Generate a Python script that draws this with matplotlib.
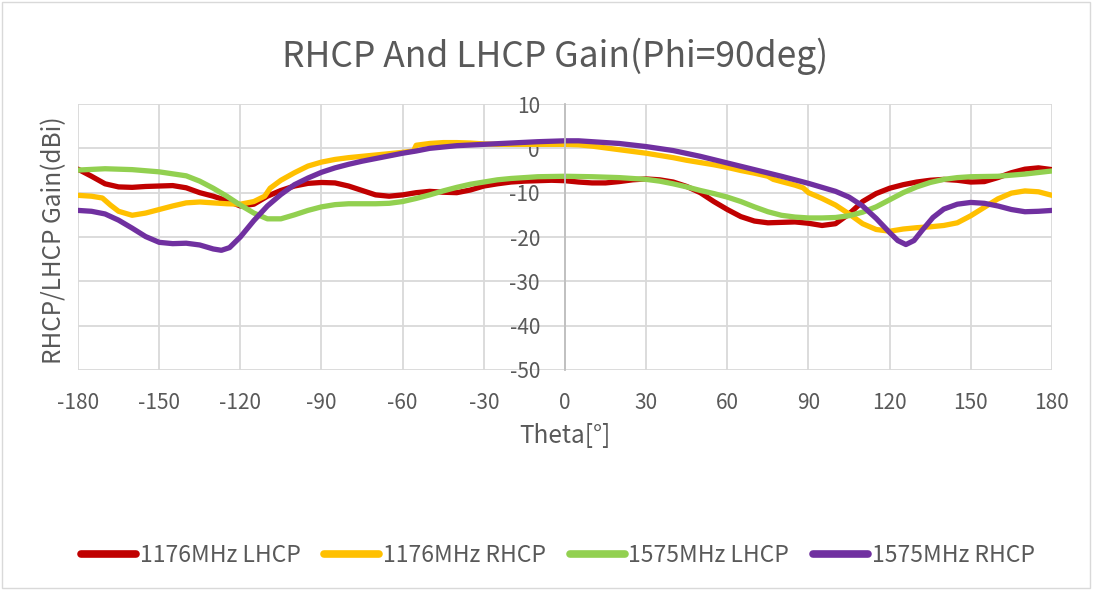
import matplotlib
matplotlib.use("Agg")
import matplotlib.pyplot as plt
from matplotlib.patches import Rectangle

plt.rcParams['font.family'] = ['Noto Sans CJK SC', 'DejaVu Sans']
plt.rcParams['font.weight'] = 300

title = "RHCP And LHCP Gain(Phi=90deg)"
xlabel = "Theta[°]"
ylabel = "RHCP/LHCP Gain(dBi)"
xticks = [-180, -150, -120, -90, -60, -30, 0, 30, 60, 90, 120, 150, 180]
yticks = [10, 0, -10, -20, -30, -40, -50]

# 1176MHz LHCP
theta_l1176 = [-180, -175, -170, -165, -160, -155, -150, -145, -140, -135, -130, -125, -120, -115, -110,
               -105, -100, -95, -90, -85, -80, -75, -70, -65, -60, -55, -50, -45, -40, -35, -30, -25,
               -20, -15, -10, -5, 0, 5, 10, 15, 20, 25, 30, 35, 40, 45, 50, 55, 60, 65, 70, 75, 80, 85,
               90, 95, 100, 105, 110, 115, 120, 125, 130, 135, 140, 145, 150, 155, 160, 165, 170, 175, 180]
gain_l1176 = [-4.7, -6.3, -8.0, -8.7, -8.8, -8.6, -8.5, -8.4, -8.9, -10.0, -10.8, -11.8, -13.0, -12.6, -10.8,
              -9.5, -8.5, -7.9, -7.7, -7.8, -8.5, -9.5, -10.5, -10.8, -10.5, -10.0, -9.7, -9.9, -10.0, -9.4,
              -8.5, -8.0, -7.6, -7.4, -7.3, -7.2, -7.3, -7.6, -7.8, -7.8, -7.5, -7.1, -6.9, -7.1, -7.6, -8.6,
              -10.0, -12.0, -13.8, -15.4, -16.4, -16.8, -16.7, -16.6, -16.9, -17.4, -17.0, -14.8, -12.0,
              -10.2, -9.0, -8.2, -7.6, -7.2, -7.0, -7.2, -7.6, -7.5, -6.6, -5.5, -4.7, -4.4, -4.8]

# 1176MHz RHCP
theta_r1176 = [-180, -175, -171, -168, -165, -160, -155, -150, -145, -140, -135, -130, -125, -120, -115, -111,
               -109, -105, -100, -95, -90, -85, -80, -75, -70, -65, -60, -56, -55, -50, -45, -40, -35, -30,
               -25, -20, -10, 0, 5, 10, 15, 20, 25, 30, 35, 40, 45, 50, 55, 60, 65, 70, 75, 77, 80, 85, 88,
               90, 95, 100, 105, 110, 115, 120, 125, 130, 135, 140, 145, 150, 155, 160, 165, 170, 175, 180]
gain_r1176 = [-10.6, -10.8, -11.2, -12.8, -14.2, -15.1, -14.6, -13.8, -13.0, -12.3, -12.1, -12.3, -12.5, -12.6,
              -12.0, -10.8, -9.0, -7.2, -5.5, -4.0, -3.1, -2.5, -2.1, -1.8, -1.5, -1.2, -0.9, -0.6, 0.7, 1.1,
              1.3, 1.3, 1.2, 1.0, 0.9, 0.9, 0.9, 0.9, 0.8, 0.5, 0.1, -0.3, -0.7, -1.1, -1.6, -2.1, -2.7, -3.2,
              -3.7, -4.3, -5.0, -5.6, -6.3, -7.0, -7.5, -8.3, -8.9, -10.0, -11.3, -12.8, -14.8, -17.0, -18.3,
              -18.7, -18.2, -17.9, -17.7, -17.4, -16.8, -15.2, -13.3, -11.4, -10.1, -9.6, -9.8, -10.6]

# 1575MHz LHCP
theta_l1575 = [-180, -170, -160, -150, -140, -135, -130, -125, -120, -115, -110, -105, -100, -95, -90, -85,
               -80, -70, -65, -60, -55, -50, -45, -40, -35, -30, -25, -20, -10, 0, 10, 20, 30, 35, 40, 45,
               50, 55, 60, 65, 70, 75, 80, 85, 90, 95, 100, 105, 110, 115, 120, 125, 130, 135, 140, 145,
               150, 160, 170, 180]
gain_l1575 = [-4.9, -4.6, -4.8, -5.3, -6.2, -7.4, -9.0, -10.8, -12.8, -14.6, -15.9, -15.9, -15.0, -14.0, -13.2,
              -12.7, -12.5, -12.5, -12.4, -12.0, -11.3, -10.5, -9.6, -8.8, -8.1, -7.6, -7.1, -6.8, -6.4, -6.3,
              -6.4, -6.6, -7.0, -7.4, -8.0, -8.7, -9.5, -10.2, -11.0, -12.0, -13.2, -14.3, -15.1, -15.5, -15.7,
              -15.7, -15.6, -15.2, -14.4, -13.2, -11.6, -10.0, -8.7, -7.7, -7.0, -6.6, -6.4, -6.3, -5.8, -5.1]

# 1575MHz RHCP
theta_r1575 = [-180, -175, -170, -165, -160, -155, -150, -145, -140, -135, -130, -127, -124, -120, -115, -110,
               -105, -100, -95, -90, -85, -80, -75, -70, -65, -60, -55, -50, -45, -40, -30, -20, -10, 0, 5,
               10, 20, 30, 40, 50, 60, 70, 80, 90, 100, 105, 110, 115, 120, 123, 126, 129, 132, 136, 140,
               145, 150, 155, 160, 165, 170, 175, 180]
gain_r1575 = [-14.0, -14.2, -14.8, -16.2, -18.0, -19.9, -21.2, -21.5, -21.4, -21.8, -22.7, -23.0, -22.4, -20.0,
              -16.3, -13.0, -10.4, -8.2, -6.7, -5.4, -4.4, -3.6, -2.9, -2.3, -1.7, -1.1, -0.6, 0.0, 0.3, 0.6,
              0.9, 1.2, 1.5, 1.7, 1.7, 1.5, 1.1, 0.4, -0.5, -1.8, -3.3, -4.8, -6.3, -7.9, -9.7, -11.0, -13.0,
              -15.8, -19.0, -20.8, -21.7, -20.8, -18.5, -15.6, -13.7, -12.6, -12.2, -12.4, -13.0, -13.8, -14.3,
              -14.2, -14.0]

series = [
    ("1176MHz LHCP", theta_l1176, gain_l1176, "#C00000"),
    ("1176MHz RHCP", theta_r1176, gain_r1176, "#FFC000"),
    ("1575MHz LHCP", theta_l1575, gain_l1575, "#92D050"),
    ("1575MHz RHCP", theta_r1575, gain_r1575, "#7030A0"),
]

fig = plt.figure(figsize=(10.94, 5.90), dpi=100)
fig.patches.append(Rectangle((0.002, 0.003), 0.994, 0.994, transform=fig.transFigure,
                             fill=False, edgecolor="#d9d9d9", linewidth=1.0))
ax = fig.add_axes([0.0713, 0.3729, 0.8903, 0.4508])

for name, th, g, c in series:
    ax.plot(th, g, color=c, linewidth=3.8, solid_joinstyle="round", solid_capstyle="round", label=name)

ax.set_xlim(-180, 180)
ax.set_ylim(-50, 10)
ax.set_xticks(xticks)
ax.set_yticks(yticks)
ax.set_xticklabels([str(v) for v in xticks])
ax.set_yticklabels([str(v) for v in yticks])
ax.grid(True, color="#d9d9d9", linewidth=1.3)
ax.set_axisbelow(True)
for s in ["top", "right", "bottom"]:
    ax.spines[s].set_visible(False)
ax.spines["left"].set_position(("data", 0))
ax.spines["left"].set_color("#bfbfbf")
ax.spines["left"].set_linewidth(1.3)
ax.tick_params(axis="both", length=0, labelsize=15, colors="#595959")
ax.tick_params(axis="x", pad=16)
ax.tick_params(axis="y", pad=18)

fig.text(0.507, 0.905, title, ha="center", va="center", fontsize=25.5, color="#595959", fontweight=300)
fig.text(0.516, 0.261, xlabel, ha="center", va="center", fontsize=17.5, color="#595959", fontweight=300)
fig.text(0.049, 0.593, ylabel, ha="center", va="center", rotation=90, fontsize=17.5, color="#595959",
         fontweight=300)

leg = fig.legend(loc="center", bbox_to_anchor=(0.510, 0.058), ncol=4, frameon=False,
                 prop={"size": 16.5, "weight": 300}, handlelength=2.4, columnspacing=1.05,
                 handletextpad=0.15)
for t in leg.get_texts():
    t.set_color("#595959")
for h in leg.get_lines():
    h.set_linewidth(5.5)

fig.savefig("out.png", dpi=100)
